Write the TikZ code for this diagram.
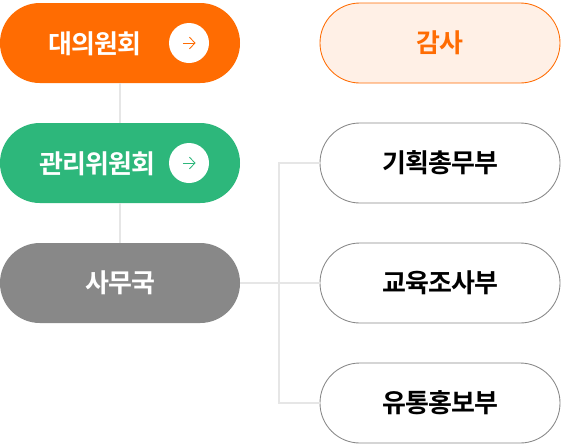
\documentclass[tikz,border=0pt]{standalone}
\usepackage{fontspec}
\setmainfont{Noto Sans CJK KR}[BoldFont={Noto Sans CJK KR Bold},LetterSpace=-3.5]
\usetikzlibrary{positioning,arrows.meta,calc}
\definecolor{orangefill}{HTML}{FF6C02}
\definecolor{orangepale}{HTML}{FFF0E6}
\definecolor{greenfill}{HTML}{2DB77B}
\definecolor{grayfill}{HTML}{888888}
\definecolor{linegray}{HTML}{E6E6E6}

\begin{document}
\begin{tikzpicture}[
  font=\fontsize{19.5pt}{21pt}\selectfont\bfseries,
  node distance=30pt,
  pill/.style={rounded corners=29.9pt, minimum width=180pt, minimum height=60pt, inner sep=0pt, outer sep=0pt},
  lead/.style={pill, fill=#1, text=white},
  dept/.style={pill, draw=grayfill, line width=0.65pt, fill=white, text=black},
  btn/.style={circle, fill=white, minimum size=30pt, inner sep=0pt, outer sep=0pt},
  pilltext/.style={text=white, inner sep=0pt},
  arr/.style={-{Straight Barb[length=4.2pt, width=8.6pt]}, line width=0.65pt},
  conn/.style={draw=linegray, line width=1.5pt}
]
\useasboundingbox (0,0) rectangle (422.25pt,-333pt);
\node[lead=orangefill] (council) at (90pt,-32.25pt) {};
\node[lead=greenfill, below=of council] (board) {};
\node[lead=grayfill, below=of board] (office) {사무국};
\node[pill, draw=orangefill, line width=0.65pt, fill=orangepale, text=orangefill, right=60pt of council] (audit) {감사};
\node[dept, below=of audit] (plan) {기획총무부};
\node[dept, below=of plan] (edu) {교육조사부};
\node[dept, below=of edu] (promo) {유통홍보부};
\node[pilltext] (councillab) at ([xshift=-18.6pt,yshift=-0.2pt]council.center) {대의원회};
\node[pilltext] (boardlab) at ([xshift=-17.2pt,yshift=-0.2pt]board.center) {관리위원회};
\node[btn, right=-53.25pt of council] (btna) {};
\node[btn, right=-53.25pt of board] (btnb) {};
\coordinate (junc) at ($(office.east)!0.4875!(edu.west)$);
\draw[conn] (council) -- (board);
\draw[conn] (board) -- (office);
\draw[conn] (office) -- (edu);
\draw[conn] (plan.west) -| (junc) |- (promo.west);
\draw[arr, orangefill] ([xshift=-4.6pt]btna.center) -- ([xshift=5pt]btna.center);
\draw[arr, greenfill] ([xshift=-4.6pt]btnb.center) -- ([xshift=5pt]btnb.center);
\end{tikzpicture}
\end{document}
